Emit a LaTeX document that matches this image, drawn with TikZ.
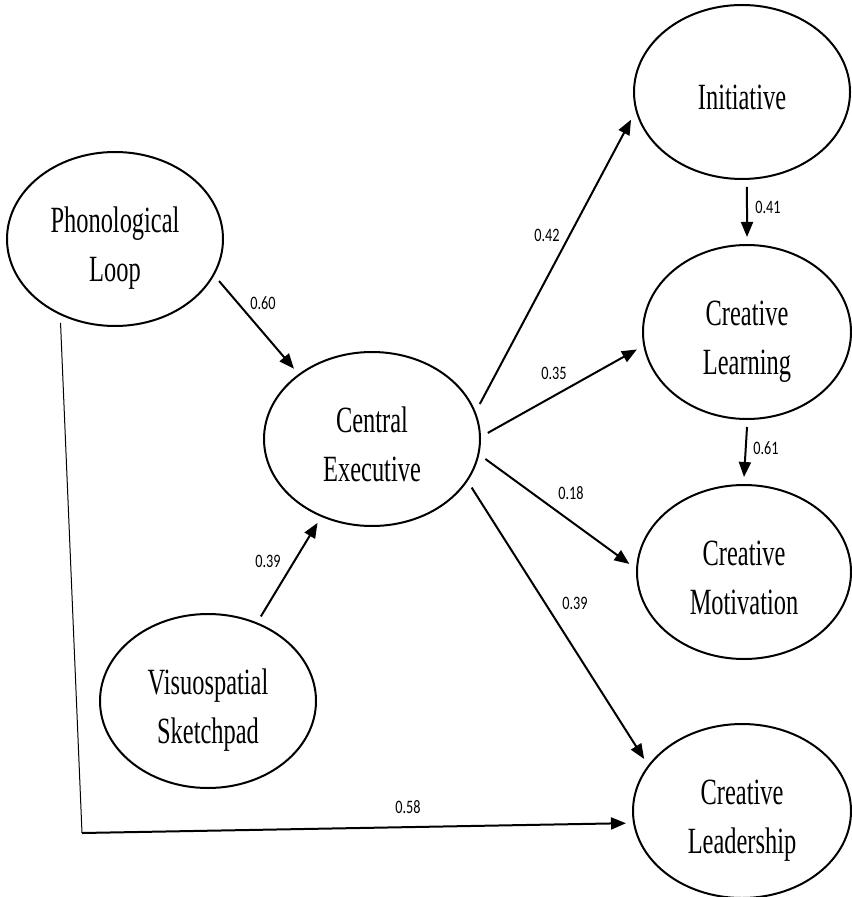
\documentclass[tikz,border=0pt]{standalone}
\usepackage{fontspec}
\newfontfamily\lblfont{Liberation Serif}[FakeStretch=0.66]
\newfontfamily\numfont{Carlito}[FakeStretch=0.75]
\usetikzlibrary{shapes.geometric,arrows.meta}
\newcommand{\pairtext}[2]{\rule{0pt}{22pt}#1\\#2\rule[-4pt]{0pt}{4pt}}

\begin{document}
\begin{tikzpicture}[x=0.5pt,y=-0.5pt,>={Triangle[length=7.5pt,width=6pt]},
    latent/.style={draw=black,line width=1pt,ellipse,inner sep=0pt,outer sep=4pt,
        minimum width=108pt,minimum height=87pt,align=center,
        font=\lblfont\fontsize{18.5pt}{24.5pt}\selectfont},
    coef/.style={inner sep=0pt,font=\numfont\fontsize{9.5pt}{11pt}\selectfont},
    path/.style={line width=1pt}]
            \useasboundingbox (0,0) rectangle (851,897);

            \node[latent] (PL) at (115,239) {\pairtext{Phonological}{Loop}};
            \node[latent] (CE) at (372,439) {\pairtext{Central}{Executive}};
            \node[latent] (VS) at (208,701) {\pairtext{Visuospatial}{Sketchpad}};
            \node[latent] (IN) at (742,92) {\rule{0pt}{22pt}Initiative\rule[-4pt]{0pt}{4pt}};
            \node[latent,minimum width=104pt] (CL) at (747,332) {\pairtext{Creative}{Learning}};
            \node[latent,minimum width=107pt] (CM) at (744,572) {\pairtext{Creative}{Motivation}};
            \node[latent,minimum width=109pt] (LD) at (742,811) {\pairtext{Creative}{Leadership}};
            \coordinate (corner) at (82,833);

            \path [->,path] (PL.-22.7) edge (CE.138.9);
            \path [->,path] (VS.58.3) edge (CE.237.4);
            \path [->,path] (CE.18.6) edge (IN.194.9);
            \path [->,path] (CE.3) edge (CL.189.4);
            \path [->,path] (CE.-10.4) edge (CM.176.4);
            \path [->,path] (CE.-26.3) edge (LD.152.1);
            \path [->,path] (IN.-87) edge (CL.north);
            \path [->,path] (CL.south) edge (CM.north);
            \path [-,line width=0.5pt] (PL.237.3) edge (corner);
            \path [->,path] (corner) edge (LD.186);

            \node[coef] (c60) at (263,303) {0.60};
            \node[coef] (c39a) at (268,561) {0.39};
            \node[coef] (c42) at (547,235) {0.42};
            \node[coef] (c35) at (554,373) {0.35};
            \node[coef] (c18) at (571,493) {0.18};
            \node[coef] (c39b) at (575,603) {0.39};
            \node[coef] (c41) at (768,207) {0.41};
            \node[coef] (c61) at (766,448) {0.61};
            \node[coef] (c58) at (408,807) {0.58};
        \end{tikzpicture}
\end{document}
